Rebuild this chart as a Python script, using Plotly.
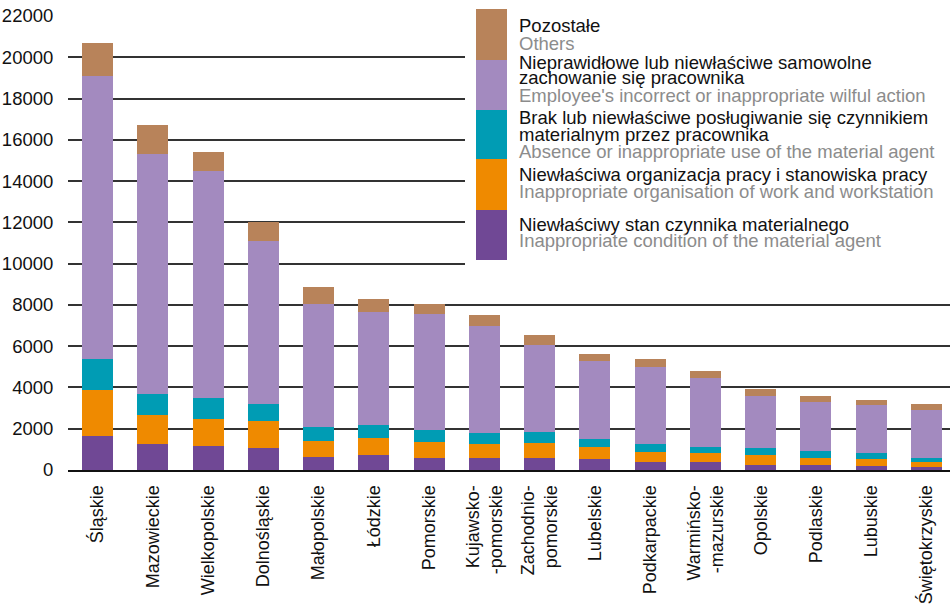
import plotly.graph_objects as go

regions = ["Śląskie", "Mazowieckie", "Wielkopolskie", "Dolnośląskie", "Małopolskie",
           "Łódzkie", "Pomorskie", "Kujawsko-<br>-pomorskie", "Zachodnio-<br>pomorskie",
           "Lubelskie", "Podkarpackie", "Warmińsko-<br>-mazurskie", "Opolskie",
           "Podlaskie", "Lubuskie", "Świętokrzyskie"]

condition = [1650, 1260, 1160, 1065, 630, 730, 580, 580, 580, 530, 390, 390, 260, 260, 210, 165]
organisation = [2230, 1400, 1310, 1305, 770, 820, 775, 680, 725, 580, 485, 435, 490, 345, 345, 245]
material_use = [1500, 1020, 1015, 820, 680, 630, 580, 530, 535, 390, 385, 290, 295, 295, 245, 195]
employee = [13700, 11630, 10985, 7890, 5985, 5480, 5615, 5180, 4210, 3775, 3725, 3340, 2550, 2400, 2335, 2305]
others = [1600, 1390, 920, 920, 790, 610, 485, 530, 485, 340, 385, 340, 340, 295, 260, 295]

y_ticks = [0, 2000, 4000, 6000, 8000, 10000, 12000, 14000, 16000, 18000, 20000, 22000]

series = [
    ("Niewłaściwy stan czynnika materialnego", condition, "#704895"),
    ("Niewłaściwa organizacja pracy i stanowiska pracy", organisation, "#EF8A00"),
    ("Brak lub niewłaściwe posługiwanie się czynnikiem materialnym przez pracownika", material_use, "#009CB4"),
    ("Nieprawidłowe lub niewłaściwe samowolne zachowanie się pracownika", employee, "#A38ABF"),
    ("Pozostałe", others, "#B8835A"),
]

legend_lines = [
    # (swatch color, swatch top px, swatch bottom px, [(text, color, baseline px)])
    ("#B8835A", 9, 60, [("Pozostałe", "#111111", 32), ("Others", "#8C8C8C", 49)]),
    ("#A38ABF", 60, 110, [("Nieprawidłowe lub niewłaściwe samowolne", "#111111", 68),
                          ("zachowanie się pracownika", "#111111", 84),
                          ("Employee's incorrect or inappropriate wilful action", "#8C8C8C", 101)]),
    ("#009CB4", 110, 159, [("Brak lub niewłaściwe posługiwanie się czynnikiem", "#111111", 124),
                           ("materialnym przez pracownika", "#111111", 140),
                           ("Absence or inappropriate use of the material agent", "#8C8C8C", 157)]),
    ("#EF8A00", 159, 210, [("Niewłaściwa organizacja pracy i stanowiska pracy", "#111111", 180),
                           ("Inappropriate organisation of work and workstation", "#8C8C8C", 197)]),
    ("#704895", 210, 260, [("Niewłaściwy stan czynnika materialnego", "#111111", 230),
                           ("Inappropriate condition of the material agent", "#8C8C8C", 247)]),
]

W, H = 950, 606
L, R, T, B = 68, 0, 16, 136
pw, ph = W - L - R, H - T - B

def px2x(px):
    return (px - L) / pw

def px2y(py):
    return (H - B - py) / ph

FONT = "Liberation Sans, Arial, sans-serif"
FS = 18.5

fig = go.Figure()
for name, vals, color in series:
    fig.add_trace(go.Bar(x=list(range(len(regions))), y=vals, name=name,
                         marker=dict(color=color, line=dict(width=0)),
                         showlegend=False))

# x range so that first bar centre ~97.5px, last ~926.5px
step = (926.5 - 97.5) / 15
x0 = -(97.5 - L) / step
x1 = 15 + (W - R - 926.5) / step

shapes = [dict(type="rect", xref="paper", yref="paper",
               x0=px2x(465), x1=px2x(W), y0=px2y(266), y1=px2y(0),
               fillcolor="white", line=dict(width=0), layer="above")]
annotations = []
for color, top, bot, lines in legend_lines:
    shapes.append(dict(type="rect", xref="paper", yref="paper",
                       x0=px2x(476), x1=px2x(507), y0=px2y(bot), y1=px2y(top),
                       fillcolor=color, line=dict(width=0), layer="above"))
    for text, tcol, base in lines:
        annotations.append(dict(text=text, xref="paper", yref="paper",
                                x=px2x(517), y=px2y(base - 6), xanchor="left", yanchor="middle",
                                showarrow=False, font=dict(family=FONT, size=FS, color=tcol)))

fig.update_layout(
    width=W, height=H,
    margin=dict(l=L, r=R, t=T, b=B),
    barmode="stack",
    bargap=0.44,
    plot_bgcolor="white", paper_bgcolor="white",
    font=dict(family=FONT, size=FS, color="#111111"),
    xaxis=dict(range=[x0, x1], tickmode="array", tickvals=list(range(len(regions))),
               ticktext=regions, tickangle=-90, showgrid=False, zeroline=False,
               showline=True, linecolor="#111111", linewidth=2, automargin=False,
               ticks="outside", ticklen=6, tickcolor="rgba(0,0,0,0)",
               tickfont=dict(size=18, color="#111111")),
    yaxis=dict(range=[0, 22000], tickmode="array", tickvals=y_ticks,
               ticktext=[str(v) for v in y_ticks], automargin=False,
               showgrid=True, gridcolor="#333333", gridwidth=1.6, zeroline=False,
               showline=False, ticks="outside", ticklen=10, tickcolor="rgba(0,0,0,0)",
               tickfont=dict(size=FS, color="#111111")),
    shapes=shapes,
    annotations=annotations,
)

fig.write_html("out.html", config={"displayModeBar": False},
               post_script="document.body.style.margin='0px';document.body.style.padding='0px';")
